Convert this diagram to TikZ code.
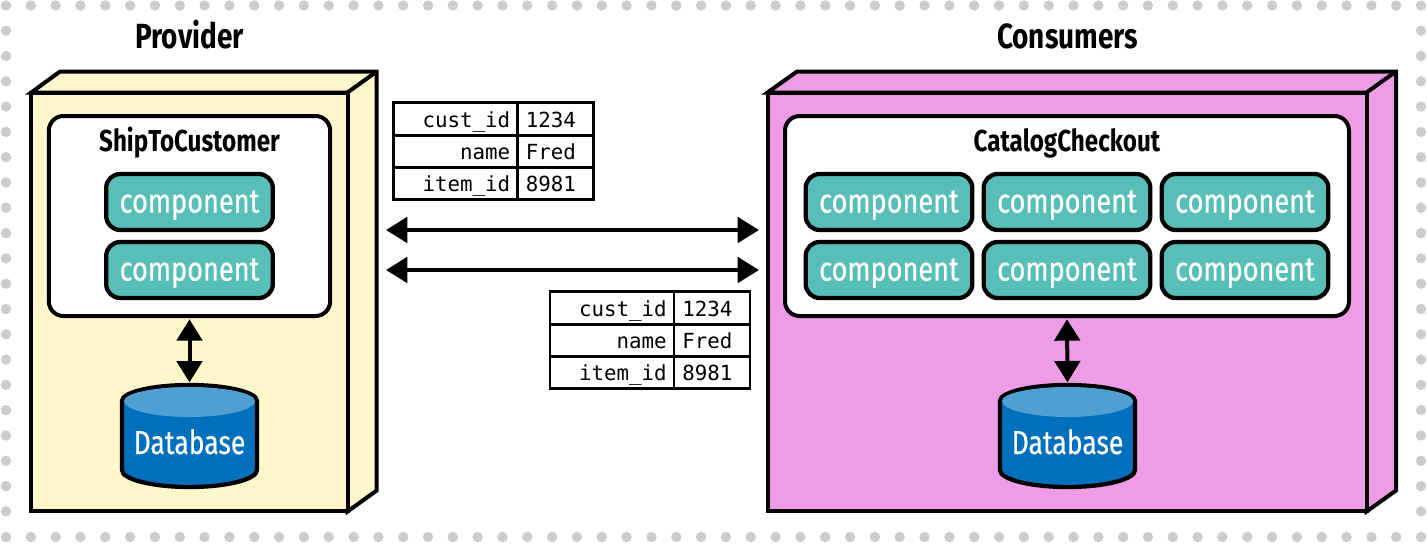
\documentclass[tikz,border=0pt]{standalone}
\usepackage{fontspec}
\usetikzlibrary{arrows.meta}
\setmainfont{Fira Sans}[FakeStretch=0.80]
\newfontfamily\whitelabel{Fira Sans}[FakeStretch=0.80,FakeBold=0.35]
\setmonofont{DejaVu Sans Mono}
\definecolor{dotgray}{HTML}{CCCCCC}
\definecolor{provfill}{HTML}{FFF6CC}
\definecolor{consfill}{HTML}{EF9CE6}
\definecolor{compfill}{HTML}{58BFB8}
\definecolor{dbbody}{HTML}{0070BD}
\definecolor{dbtop}{HTML}{4F9FD2}
\newcommand{\lowered}[2]{\raisebox{-#1}[0pt][0pt]{#2}}
\tikzset{
  box3d/.style={draw=black,line width=3pt,line join=miter},
  front/.style={box3d,rectangle,inner sep=0pt,outer sep=0pt},
  svc/.style={draw=black,fill=white,line width=3pt,rectangle,rounded corners=11pt,inner sep=0pt,outer sep=0pt},
  comp/.style={draw=black,fill=compfill,line width=3.2pt,rectangle,rounded corners=10.5pt,inner sep=0pt,outer sep=0pt,
    text=white,font=\whitelabel\fontsize{25.4}{25}\selectfont,minimum width=125pt,minimum height=42pt},
  title/.style={inner sep=0pt,anchor=base,font=\fontsize{26.2}{26}\selectfont\bfseries},
  svctitle/.style={inner sep=0pt,anchor=base,font=\fontsize{22.7}{23}\selectfont\bfseries},
  dbshape/.style={draw=black,line width=3.2pt,fill=dbbody},
  dbnode/.style={inner sep=0pt,outer sep=0pt,text=white,font=\whitelabel\fontsize{24.9}{25}\selectfont,minimum width=101pt,minimum height=76.5pt},
  cell/.style={draw=black,line width=2.2pt,rectangle,inner sep=0pt,outer sep=0pt,minimum height=24.3pt,font=\ttfamily\fontsize{15.6}{16}\selectfont},
  keycell/.style={cell,minimum width=93pt,text width=82pt,align=right},
  valcell/.style={cell,minimum width=57pt,text width=44.5pt,align=left},
  dbl/.style={line width=3pt,{Triangle[length=16pt,width=19pt]}-{Triangle[length=16pt,width=19pt]}},
}
% key/value table: #1 prefix, #2 left x, #3 top y
\newcommand{\kvtable}[3]{%
  \foreach \rw/\kk/\vv in {0/cust\_id/1234,1/name/Fred,2/item\_id/8981}{
    \pgfmathsetmacro{\cy}{#3+16.2+32.4*\rw}
    \pgfmathsetmacro{\kx}{#2+62}
    \pgfmathsetmacro{\vx}{#2+162}
    \node[keycell] (#1k\rw) at (\kx,\cy) {\lowered{6.2pt}{\kk}};
    \node[valcell] (#1v\rw) at (\vx,\cy) {\lowered{6.2pt}{\vv}};
  }}
\begin{document}
\begin{tikzpicture}[x=0.75pt,y=-0.75pt]
\useasboundingbox (0,0) rectangle (1427,543);
% dotted frame
\foreach \i in {0,...,57}{
  \pgfmathsetmacro{\dx}{6+24.825*\i}
  \fill[dotgray] (\dx,5.5) circle (5.2);
  \fill[dotgray] (\dx,537) circle (5.2);
}
\foreach \j in {1,...,20}{
  \pgfmathsetmacro{\dy}{5.4+25.3*\j}
  \fill[dotgray] (6,\dy) circle (5.2);
  \fill[dotgray] (1421,\dy) circle (5.2);
}
% titles
\node[title] (provtitle) at (189.5,48.5) {Provider};
\node[title] (constitle) at (1067.5,48.5) {Consumers};
% provider box
\draw[box3d,fill=provfill] (31.3,92.5) -- (60,71.5) -- (376.7,71.5) -- (376.7,490.5) -- (347.5,511.5) -- (347.5,92.5) -- cycle;
\draw[box3d] (347.5,92.5) -- (376.7,71.5);
\node[front,fill=provfill,minimum width=237.2pt,minimum height=314.2pt] (prov) at (189.4,302) {};
\node[svc,minimum width=211pt,minimum height=150pt] (ship) at (189.5,216) {};
\node[svctitle] (shipt) at (189.5,151.5) {ShipToCustomer};
\node[comp] (pc1) at (189.5,202) {\lowered{8pt}{component}};
\node[comp] (pc2) at (189.5,270) {\lowered{8pt}{component}};
% provider db
\draw[dbshape] (122,401) arc[start angle=180,end angle=360,x radius=67.5,y radius=16] -- (257,470) arc[start angle=0,end angle=180,x radius=67.5,y radius=17] -- cycle;
\fill[dbtop] (124,401) arc[start angle=180,end angle=360,x radius=65.5,y radius=14] arc[start angle=0,end angle=180,x radius=65.5,y radius=16] -- cycle;
\node[dbnode] (db1) at (189.5,436) {\lowered{13.5pt}{Database}};
\draw[dbl] ([yshift=-2.5pt]ship.south) -- ([yshift=2pt]db1.north);
% consumer box
\draw[box3d,fill=consfill] (767.5,92.5) -- (797,71.5) -- (1396,71.5) -- (1396,490.5) -- (1366.5,511.5) -- (1366.5,92.5) -- cycle;
\draw[box3d] (1366.5,92.5) -- (1396,71.5);
\node[front,fill=consfill,minimum width=449.25pt,minimum height=314.2pt] (cons) at (1067,302) {};
\node[svc,minimum width=423pt,minimum height=150pt] (cat) at (1067,216) {};
\node[svctitle] (catt) at (1067,151.5) {CatalogCheckout};
\foreach \cx/\cn in {889/a,1067/b,1245/c}{
  \node[comp] (cc\cn1) at (\cx,202) {\lowered{8pt}{component}};
  \node[comp] (cc\cn2) at (\cx,270) {\lowered{8pt}{component}};
}
% consumer db
\draw[dbshape] (1000,401) arc[start angle=180,end angle=360,x radius=67.5,y radius=16] -- (1135,470) arc[start angle=0,end angle=180,x radius=67.5,y radius=17] -- cycle;
\fill[dbtop] (1002,401) arc[start angle=180,end angle=360,x radius=65.5,y radius=14] arc[start angle=0,end angle=180,x radius=65.5,y radius=16] -- cycle;
\node[dbnode] (db2) at (1067.5,436) {\lowered{13.5pt}{Database}};
\draw[dbl] ([yshift=-2.5pt]cat.south) -- ([yshift=2pt]db2.north);
% horizontal connectors
\coordinate (l1) at (386,230); \coordinate (r1) at (759,230);
\coordinate (l2) at (386,270); \coordinate (r2) at (759,270);
\draw[dbl] (l1) -- (r1);
\draw[dbl] (l2) -- (r2);
% tables
\kvtable{ta}{393.5}{102.7}
\kvtable{tb}{550}{291.7}
\end{tikzpicture}
\end{document}
